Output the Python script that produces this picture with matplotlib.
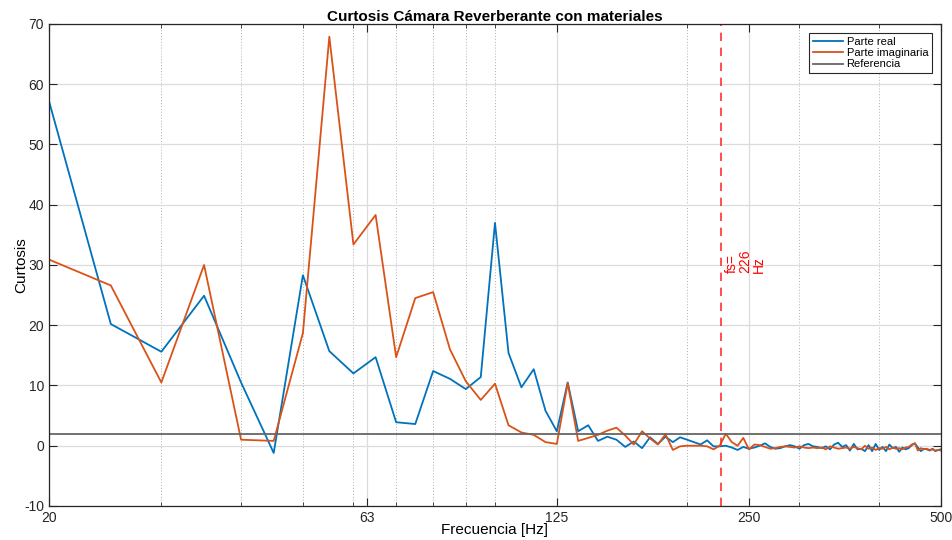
import numpy as np
import matplotlib.pyplot as plt
from matplotlib.ticker import FixedLocator, NullFormatter

plt.rcParams['font.family'] = ['Liberation Sans', 'DejaVu Sans']
plt.rcParams['axes.unicode_minus'] = False

# frecuencias cada 5 Hz, de 20 a 500 Hz
freq = np.arange(20, 505, 5)

parte_real = [57.2, 20.2, 15.6, 24.9, 10.5, -1.2, 28.3, 15.7, 12.0, 14.7,
              3.9, 3.6, 12.4, 11.1, 9.4, 11.4, 37.0, 15.4, 9.7, 12.7,
              5.8, 2.4, 10.5, 2.4, 3.4, 0.8, 1.5, 1.0, -0.2, 0.7,
              -0.4, 1.4, 0.3, 1.5, 0.6, 1.4, 1.0, 0.6, 0.2, 0.9,
              -0.1, -0.1, 0.0, -0.3, -0.7, -0.2, -0.5, -0.3, 0.0, 0.4,
              -0.2, -0.5, -0.4, -0.1, 0.1, -0.1, -0.5, 0.1, 0.3, -0.1,
              -0.2, -0.4, -0.1, -0.6, 0.2, 0.5, -0.2, 0.1, -0.8, 0.3,
              -0.6, -0.5, -0.9, 0.1, -0.9, 0.3, -0.7, -0.2, -0.9, 0.2,
              -0.4, -0.2, -1.0, -0.3, -0.6, -0.4, 0.1, 0.4, -0.3, -0.9,
              -0.5, -0.6, -0.8, -0.5, -0.9, -0.7, -0.6]

parte_imag = [30.9, 26.6, 10.5, 30.0, 1.0, 0.8, 18.7, 67.9, 33.4, 38.3,
              14.7, 24.5, 25.5, 16.0, 10.7, 7.6, 10.3, 3.4, 2.2, 1.8,
              0.6, 0.3, 10.4, 0.8, 1.3, 1.8, 2.5, 3.0, 1.7, 0.2,
              2.4, 1.2, 0.2, 1.9, -0.7, -0.1, 0.0, 0.0, 0.0, -0.1,
              -0.6, 0.0, 2.0, 0.6, 0.0, 1.3, -0.6, 0.2, 0.1, -0.2,
              -0.5, -0.4, -0.2, -0.1, -0.2, -0.3, -0.1, -0.3, -0.4, -0.3,
              -0.4, -0.3, -0.6, -0.1, -0.3, -0.5, -0.4, -0.3, -0.5, -0.2,
              -0.4, -0.6, 0.0, -0.5, -0.3, -0.7, -0.4, -0.5, -0.2, -0.6,
              -0.3, -0.5, -0.4, -0.6, -0.3, -0.2, 0.2, 0.4, -0.8, -0.4,
              -0.6, -0.5, -0.7, -0.6, -0.8, -0.7, -0.8]

referencia = 2
fs = 226

xticks = [20, 63, 125, 250, 500]
xminor = [30, 40, 50, 60, 70, 80, 90, 100, 200, 300, 400]
yticks = list(range(-10, 80, 10))

fig = plt.figure(figsize=(9.53, 5.40), dpi=100)
ax = fig.add_axes([0.0514, 0.063, 0.936, 0.8926])

ax.plot(freq, parte_real, color='#0072BD', lw=1.3, label='Parte real')
ax.plot(freq, parte_imag, color='#D95319', lw=1.3, label='Parte imaginaria')
ax.axhline(referencia, color='#666666', lw=1.3, label='Referencia')
ax.axvline(fs, color='#FF3030', lw=1.2, ls=(0, (5, 4)))
ax.text(fs + 3, 28.7, 'fs=\n226\nHz', rotation=90, color='red', fontsize=10,
        ha='left', va='bottom', multialignment='left', linespacing=0.95)

ax.set_xscale('log')
ax.set_xlim(20, 500)
ax.set_ylim(-10, 70)
ax.xaxis.set_major_locator(FixedLocator(xticks))
ax.xaxis.set_major_formatter(plt.FixedFormatter([str(t) for t in xticks]))
ax.xaxis.set_minor_locator(FixedLocator(xminor))
ax.xaxis.set_minor_formatter(NullFormatter())
ax.set_yticks(yticks)

ax.grid(True, which='major', color='#dcdcdc', lw=0.9)
ax.grid(True, which='minor', axis='x', color='#b0b0b0', lw=0.7, ls=(0, (1, 2)))
ax.set_axisbelow(True)

ax.tick_params(which='both', direction='in', top=True, right=True,
               labelsize=10, colors='#262626')
ax.tick_params(which='major', length=6)
ax.tick_params(which='minor', length=3)
for s in ax.spines.values():
    s.set_color('#262626')
    s.set_linewidth(0.9)

ax.set_title('Curtosis Cámara Reverberante con materiales', fontsize=11,
             fontweight='bold', pad=2)
ax.set_xlabel('Frecuencia [Hz]', fontsize=11, labelpad=-1)
ax.set_ylabel('Curtosis', fontsize=11, labelpad=-3)

leg = ax.legend(loc='upper right', fontsize=8, fancybox=False,
                framealpha=1, edgecolor='#262626', borderpad=0.35,
                handlelength=2.7, labelspacing=0.12, handletextpad=0.3,
                borderaxespad=0.8)
leg.get_frame().set_linewidth(0.8)

fig.savefig('out.png', dpi=100)
